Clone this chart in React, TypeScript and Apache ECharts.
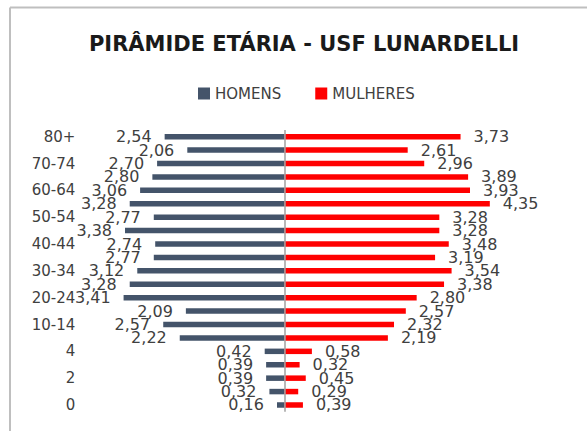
import React, { useEffect, useRef } from "react";
import * as echarts from "echarts";

const categories = ["0","1","2","3","4","5-9","10-14","15-19","20-24","25-29","30-34","35-39","40-44","45-49","50-54","55-59","60-64","65-69","70-74","75-79","80+"];
const homens = [0.16,0.32,0.39,0.39,0.42,2.22,2.57,2.09,3.41,3.28,3.12,2.77,2.74,3.38,2.77,3.28,3.06,2.80,2.70,2.06,2.54];
const mulheres = [0.39,0.29,0.45,0.32,0.58,2.19,2.32,2.57,2.80,3.38,3.54,3.19,3.48,3.28,3.28,4.35,3.93,3.89,2.96,2.61,3.73];
const titleText = "PIRÂMIDE ETÁRIA - USF LUNARDELLI";
const seriesNames = ["HOMENS", "MULHERES"];

const fmt = (v: number) => Math.abs(v).toFixed(2).replace(".", ",");
const FONT = "DejaVu Sans";

export default function App() {
  const ref = useRef<HTMLDivElement>(null);
  useEffect(() => {
    if (!ref.current) return;
    const chart = echarts.init(ref.current, null, { renderer: "svg" });
    chart.setOption({
      animation: false,
      backgroundColor: "#ffffff",
      title: {
        text: titleText,
        left: 299,
        textAlign: "center",
        top: 28,
        textStyle: { fontFamily: FONT, fontSize: 21, fontWeight: "bold", color: "#1a1a1a" },
      },
      legend: {
        left: 193,
        top: 81,
        itemWidth: 12,
        itemHeight: 12,
        itemGap: 34,
        icon: "rect",
        textStyle: { fontFamily: FONT, fontSize: 15, color: "#404040" },
        data: seriesNames,
      },
      graphic: [
        { type: "line", shape: { x1: 10, y1: 7.5, x2: 587, y2: 7.5 }, style: { stroke: "#bfbfbf", lineWidth: 2 } },
        { type: "line", shape: { x1: 10, y1: 7.5, x2: 10, y2: 431 }, style: { stroke: "#bfbfbf", lineWidth: 2 } },
      ],
      grid: { left: 86.3, right: 66.5, top: 130, bottom: 19.3 },
      xAxis: {
        type: "value",
        min: -4.2,
        max: 5,
        show: false,
        splitLine: { show: false },
      },
      yAxis: {
        type: "category",
        data: categories,
        axisLine: { show: false, onZero: false },
        axisTick: { show: false },
        axisLabel: {
          interval: 1,
          margin: 11,
          fontFamily: FONT,
          fontSize: 15,
          color: "#404040",
        },
      },
      series: [
        {
          name: seriesNames[0],
          type: "bar",
          data: homens.map((v) => -v),
          barWidth: 5.5,
          barGap: "-100%",
          itemStyle: { color: "#44546A" },
          label: {
            show: true,
            position: "left",
            distance: 13,
            formatter: (p: any) => fmt(p.value),
            fontFamily: FONT,
            fontSize: 16,
            color: "#404040",
          },
        },
        {
          name: seriesNames[1],
          type: "bar",
          data: mulheres,
          barWidth: 5.5,
          barGap: "-100%",
          itemStyle: { color: "#FF0000" },
          label: {
            show: true,
            position: "right",
            distance: 13,
            formatter: (p: any) => fmt(p.value),
            fontFamily: FONT,
            fontSize: 16,
            color: "#404040",
          },
          markLine: {
            silent: true,
            symbol: "none",
            label: { show: false },
            lineStyle: { color: "#a0a0a0", type: "solid", width: 1.5 },
            data: [{ xAxis: 0 }],
          },
        },
      ],
    });
    return () => chart.dispose();
  }, []);
  return <div ref={ref} style={{ width: 587, height: 431, position: "absolute", left: 0, top: 0 }} />;
}
